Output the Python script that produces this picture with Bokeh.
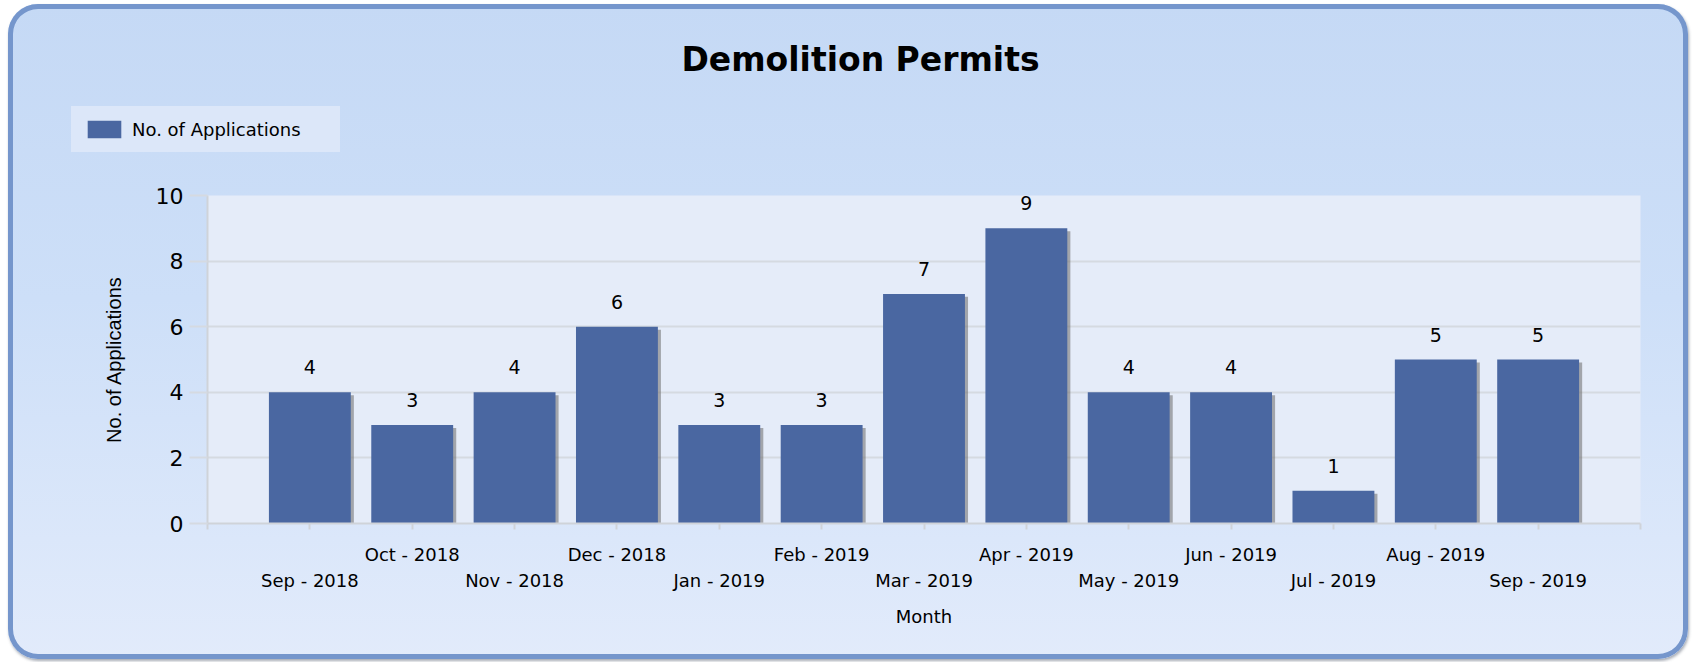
from bokeh.plotting import figure
from bokeh.layouts import column, row
from bokeh.embed import file_html
from bokeh.resources import INLINE
from bokeh.core.properties import value
from bokeh.models import (Range1d, LinearAxis, FixedTicker, Legend, LegendItem,
                          ColumnDataSource, Label)
from bokeh.transform import dodge

# ---- data ----
months = ["Sep - 2018", "Oct - 2018", "Nov - 2018", "Dec - 2018", "Jan - 2019",
          "Feb - 2019", "Mar - 2019", "Apr - 2019", "May - 2019", "Jun - 2019",
          "Jul - 2019", "Aug - 2019", "Sep - 2019"]
applications = [4, 3, 4, 6, 3, 3, 7, 9, 4, 4, 1, 5, 5]
y_ticks = [0, 2, 4, 6, 8, 10]
title_text = "Demolition Permits"
series_name = "No. of Applications"
x_title = "Month"
y_title = "No. of Applications"

idx = list(range(len(months)))
src = ColumnDataSource(dict(
    x=idx,
    top=applications,
    shadow_top=[v - 0.09 for v in applications],
    label=[str(v) for v in applications],
))

FONT = "DejaVu Sans"
BAR = "#4a67a1"
GRID = "#d5dae1"

# ---------------- header figure: title + legend ----------------
head = figure(width=1680, height=171, min_border=0,
              min_border_left=0, min_border_right=0,
              min_border_top=0, min_border_bottom=0,
              x_range=Range1d(-1, len(months)), y_range=Range1d(0, 10),
              x_axis_location=None, y_axis_location=None,
              output_backend="svg", toolbar_location=None)
head.border_fill_alpha = 0
head.background_fill_alpha = 0
head.outline_line_color = None
head.xgrid.grid_line_color = None
head.ygrid.grid_line_color = None

head.add_layout(Label(x=852, y=116, x_units="screen", y_units="screen",
                      text=title_text, text_align="center", text_baseline="middle",
                      text_font=FONT, text_font_size="33px", text_font_style="bold",
                      text_color="black"))

# legend proxy: same series, not drawn in the header
proxy = head.vbar(x="x", top="top", width=0.8, source=src,
                  fill_color=BAR, line_color=None, visible=False)
legend = Legend(items=[LegendItem(label=series_name, renderers=[proxy])],
                location=(63, 23), orientation="vertical",
                background_fill_color="#dce7f9", background_fill_alpha=1,
                border_line_color="#dce7f9", border_line_alpha=0,
                padding=12, margin=0,
                glyph_width=42, glyph_height=22, label_standoff=7,
                label_width=196, label_height=22,
                label_text_font=FONT, label_text_font_size="18px",
                label_text_color="black")
head.add_layout(legend, "center")

# ---------------- main chart ----------------
p = figure(frame_width=1433, frame_height=328,
           min_border_left=199, min_border_right=48,
           min_border_top=20, min_border_bottom=136,
           x_range=Range1d(-1, len(months)), y_range=Range1d(0, 10),
           x_axis_location=None,
           output_backend="svg", toolbar_location=None)
p.border_fill_alpha = 0
p.background_fill_color = "#e5ecf9"
p.outline_line_color = None

# grid
p.xgrid.grid_line_color = None
p.ygrid.ticker = FixedTicker(ticks=y_ticks)
p.ygrid.grid_line_color = GRID
p.ygrid.grid_line_width = 2

# y axis
ya = p.yaxis[0]
ya.ticker = FixedTicker(ticks=y_ticks)
ya.axis_line_color = "#cfd3d9"
ya.axis_line_width = 2
ya.major_tick_out = 18
ya.major_tick_in = 0
ya.major_tick_line_color = GRID
ya.major_tick_line_width = 2
ya.minor_tick_line_color = None
ya.major_label_standoff = 6
ya.major_label_text_font = FONT
ya.major_label_text_font_size = "22px"
ya.major_label_text_color = "black"
ya.axis_label = y_title
ya.axis_label_text_font = "Liberation Sans"
ya.axis_label_text_font_size = "20px"
ya.axis_label_text_font_style = "normal"
ya.axis_label_text_color = "black"
ya.axis_label_standoff = 28

# x axes (staggered labels)
all_ticks = [-1] + idx + [len(months)]
upper = {t: "" for t in all_ticks}
for i in idx:
    if i % 2 == 1:
        upper[i] = months[i]
ax1 = LinearAxis(ticker=FixedTicker(ticks=all_ticks), major_label_overrides=upper)
ax1.axis_line_color = "#cfd3d9"
ax1.axis_line_width = 2
ax1.major_tick_out = 6
ax1.major_tick_in = 0
ax1.major_tick_line_color = "#cfd3d9"
ax1.major_tick_line_width = 2
ax1.minor_tick_line_color = None
ax1.major_label_standoff = 14
ax1.major_label_text_font = FONT
ax1.major_label_text_font_size = "18px"
ax1.major_label_text_color = "black"
p.add_layout(ax1, "below")

even_ticks = [i for i in idx if i % 2 == 0]
lower = {i: months[i] for i in even_ticks}
ax2 = LinearAxis(ticker=FixedTicker(ticks=even_ticks), major_label_overrides=lower)
ax2.axis_line_color = None
ax2.major_tick_line_color = None
ax2.major_tick_out = 0
ax2.major_tick_in = 0
ax2.minor_tick_line_color = None
ax2.major_label_standoff = 2
ax2.major_label_text_font = FONT
ax2.major_label_text_font_size = "18px"
ax2.major_label_text_color = "black"
ax2.axis_label = x_title
ax2.axis_label_text_font = FONT
ax2.axis_label_text_font_size = "18px"
ax2.axis_label_text_font_style = "normal"
ax2.axis_label_text_color = "black"
ax2.axis_label_standoff = 12
p.add_layout(ax2, "below")

# bars with shadow
p.vbar(x=dodge("x", 0.03), top="shadow_top", bottom=-0.2, width=0.8, source=src,
       fill_color="#6c6c6c", fill_alpha=0.55, line_color=None)
bars = p.vbar(x="x", top="top", width=0.8, source=src,
              fill_color=BAR, line_color=None)

# value labels
p.text(x="x", y="top", text="label", source=src, text_align="center",
       text_baseline="middle", y_offset=-25, text_font=value(FONT),
       text_font_size="19px", text_color="black")

page = column(row(head), p, spacing=0)
page.styles = {
    "margin-left": "8px",
    "margin-top": "4px",
    "border-radius": "30px",
    "background": "linear-gradient(to bottom, #c5d9f5 0%, #cddff8 45%, #e2ebfb 100%)",
    "box-shadow": "inset 0 0 0 5px #7596cc, 1px 2px 3px rgba(60,70,90,0.45)",
}

open("out.html", "w").write(file_html(page, INLINE))
